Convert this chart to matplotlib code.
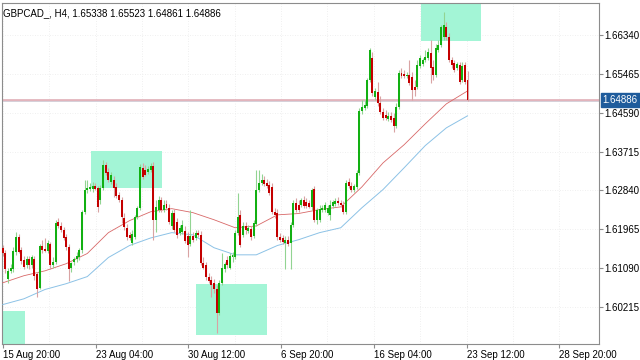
import numpy as np
import matplotlib.pyplot as plt
import matplotlib.transforms as mtransforms
from matplotlib.patches import Rectangle

plt.rcParams['font.family'] = ['Liberation Sans', 'DejaVu Sans']

#%% Data
chart_title = "GBPCAD_, H4, 1.65338 1.65523 1.64861 1.64886"
date_labels = ['15 Aug 20:00', '23 Aug 04:00', '30 Aug 12:00', '6 Sep 20:00',
               '16 Sep 04:00', '23 Sep 12:00', '28 Sep 20:00']
price_ticks = [1.60215, 1.61090, 1.61965, 1.62840, 1.63715, 1.64590, 1.65465, 1.66340]
bid = 1.64886

opens = [
    1.6155, 1.6144, 1.6085, 1.6103, 1.6108, 1.6146, 1.6180, 1.6151, 1.6128, 1.6115,
    1.6130, 1.6115, 1.6130, 1.6095, 1.6065, 1.6160, 1.6153, 1.6148, 1.6164, 1.6117,
    1.6123, 1.6213, 1.6204, 1.6196, 1.6180, 1.6157, 1.6110, 1.6123, 1.6130, 1.6133,
    1.6151, 1.6236, 1.6286, 1.6288, 1.6288, 1.6295, 1.6290, 1.6263, 1.6290, 1.6342,
    1.6326, 1.6304, 1.6308, 1.6292, 1.6274, 1.6263, 1.6222, 1.6200, 1.6184, 1.6166,
    1.6180, 1.6225, 1.6245, 1.6335, 1.6331, 1.6326, 1.6331, 1.6340, 1.6218, 1.6241,
    1.6263, 1.6241, 1.6254, 1.6245, 1.6204, 1.6234, 1.6213, 1.6189, 1.6191, 1.6193,
    1.6182, 1.6164, 1.6182, 1.6178, 1.6189, 1.6184, 1.6121, 1.6115, 1.6088, 1.6083,
    1.6076, 1.6061, 1.6009, 1.6076, 1.6106, 1.6128, 1.6110, 1.6133, 1.6135, 1.6189,
    1.6229, 1.6184, 1.6204, 1.6193, 1.6198, 1.6182, 1.6209, 1.6286, 1.6301, 1.6308,
    1.6301, 1.6297, 1.6292, 1.6236, 1.6234, 1.6180, 1.6178, 1.6166, 1.6173, 1.6166,
    1.6207, 1.6256, 1.6252, 1.6252, 1.6263, 1.6258, 1.6256, 1.6247, 1.6288, 1.6218,
    1.6218, 1.6241, 1.6241, 1.6234, 1.6229, 1.6249, 1.6254, 1.6261, 1.6256, 1.6252,
    1.6236, 1.6304, 1.6295, 1.6286, 1.6292, 1.6324, 1.6463, 1.6470, 1.6474, 1.6533,
    1.6582, 1.6495, 1.6506, 1.6481, 1.6461, 1.6454, 1.6445, 1.6452, 1.6448, 1.6430,
    1.6472, 1.6549, 1.6546, 1.6542, 1.6544, 1.6540, 1.6517, 1.6517, 1.6564, 1.6569,
    1.6578, 1.6582, 1.6594, 1.6562, 1.6544, 1.6601, 1.6612, 1.6630, 1.6652, 1.6630,
    1.6578, 1.6571, 1.6560, 1.6567, 1.6533, 1.6567, 1.65338]
highs = [
    1.6162, 1.6151, 1.6110, 1.6119, 1.6157, 1.6191, 1.6187, 1.6157, 1.6137, 1.6137,
    1.6137, 1.6139, 1.6137, 1.6101, 1.6164, 1.6173, 1.6178, 1.6173, 1.6168, 1.6133,
    1.6218, 1.6222, 1.6213, 1.6202, 1.6187, 1.6164, 1.6123, 1.6133, 1.6146, 1.6155,
    1.6241, 1.6308, 1.6308, 1.6301, 1.6304, 1.6301, 1.6295, 1.6297, 1.6353, 1.6349,
    1.6335, 1.6326, 1.6317, 1.6301, 1.6281, 1.6270, 1.6234, 1.6209, 1.6191, 1.6196,
    1.6229, 1.6249, 1.6344, 1.6346, 1.6342, 1.6340, 1.6346, 1.6349, 1.6263, 1.6272,
    1.6270, 1.6263, 1.6263, 1.6254, 1.6241, 1.6243, 1.6222, 1.6207, 1.6218, 1.6204,
    1.6191, 1.6241, 1.6191, 1.6196, 1.6196, 1.6193, 1.6133, 1.6123, 1.6097, 1.6092,
    1.6085, 1.6072, 1.6083, 1.6144, 1.6123, 1.6137, 1.6142, 1.6146, 1.6196, 1.6279,
    1.6241, 1.6213, 1.6213, 1.6207, 1.6204, 1.6218, 1.6331, 1.6331, 1.6322, 1.6317,
    1.6310, 1.6306, 1.6301, 1.6245, 1.6243, 1.6189, 1.6184, 1.6182, 1.6182, 1.6213,
    1.6263, 1.6268, 1.6263, 1.6268, 1.6272, 1.6268, 1.6263, 1.6290, 1.6295, 1.6245,
    1.6252, 1.6252, 1.6258, 1.6252, 1.6263, 1.6263, 1.6268, 1.6270, 1.6263, 1.6261,
    1.6308, 1.6312, 1.6304, 1.6299, 1.6331, 1.6470, 1.6488, 1.6488, 1.6537, 1.6605,
    1.6596, 1.6515, 1.6528, 1.6497, 1.6470, 1.6466, 1.6461, 1.6461, 1.6459, 1.6481,
    1.6556, 1.6560, 1.6556, 1.6551, 1.6578, 1.6551, 1.6533, 1.6578, 1.6589, 1.6582,
    1.6601, 1.6605, 1.6623, 1.6578, 1.6614, 1.6623, 1.6657, 1.6686, 1.6663, 1.6639,
    1.6585, 1.6578, 1.6573, 1.6573, 1.6573, 1.6573, 1.65523]
lows = [
    1.6137, 1.6099, 1.6076, 1.6097, 1.6101, 1.6139, 1.6142, 1.6119, 1.6106, 1.6110,
    1.6108, 1.6110, 1.6083, 1.6043, 1.6061, 1.6144, 1.6146, 1.6144, 1.6106, 1.6110,
    1.6119, 1.6200, 1.6191, 1.6173, 1.6151, 1.6081, 1.6101, 1.6115, 1.6123, 1.6128,
    1.6144, 1.6232, 1.6279, 1.6283, 1.6281, 1.6286, 1.6236, 1.6254, 1.6286, 1.6319,
    1.6304, 1.6299, 1.6270, 1.6268, 1.6258, 1.6211, 1.6196, 1.6173, 1.6173, 1.6162,
    1.6175, 1.6220, 1.6241, 1.6310, 1.6317, 1.6322, 1.6326, 1.6173, 1.6191, 1.6236,
    1.6236, 1.6236, 1.6241, 1.6209, 1.6198, 1.6191, 1.6178, 1.6184, 1.6187, 1.6166,
    1.6135, 1.6160, 1.6168, 1.6173, 1.6180, 1.6117, 1.6106, 1.6083, 1.6076, 1.6045,
    1.6052, 1.5964, 1.6004, 1.6070, 1.6101, 1.6110, 1.6106, 1.6123, 1.6130, 1.6184,
    1.6157, 1.6180, 1.6187, 1.6189, 1.6173, 1.6178, 1.6204, 1.6281, 1.6297, 1.6295,
    1.6290, 1.6274, 1.6232, 1.6222, 1.6173, 1.6168, 1.6164, 1.6106, 1.6160, 1.6106,
    1.6202, 1.6236, 1.6236, 1.6247, 1.6245, 1.6245, 1.6245, 1.6241, 1.6213, 1.6209,
    1.6213, 1.6236, 1.6236, 1.6229, 1.6218, 1.6245, 1.6249, 1.6252, 1.6247, 1.6232,
    1.6232, 1.6290, 1.6281, 1.6281, 1.6288, 1.6319, 1.6457, 1.6466, 1.6470, 1.6528,
    1.6497, 1.6488, 1.6474, 1.6457, 1.6443, 1.6443, 1.6441, 1.6439, 1.6416, 1.6425,
    1.6468, 1.6537, 1.6537, 1.6537, 1.6522, 1.6488, 1.6497, 1.6513, 1.6560, 1.6564,
    1.6573, 1.6578, 1.6526, 1.6533, 1.6540, 1.6596, 1.6607, 1.6623, 1.6623, 1.6573,
    1.6560, 1.6551, 1.6556, 1.6524, 1.6528, 1.6524, 1.64861]
closes = [
    1.6144, 1.6106, 1.6103, 1.6110, 1.6148, 1.6180, 1.6146, 1.6126, 1.6112, 1.6130,
    1.6115, 1.6133, 1.6092, 1.6061, 1.6160, 1.6151, 1.6148, 1.6166, 1.6115, 1.6123,
    1.6211, 1.6204, 1.6196, 1.6178, 1.6157, 1.6106, 1.6121, 1.6130, 1.6137, 1.6151,
    1.6236, 1.6286, 1.6290, 1.6292, 1.6295, 1.6288, 1.6247, 1.6290, 1.6342, 1.6324,
    1.6308, 1.6319, 1.6290, 1.6272, 1.6263, 1.6225, 1.6202, 1.6180, 1.6178, 1.6187,
    1.6225, 1.6245, 1.6337, 1.6315, 1.6319, 1.6333, 1.6340, 1.6218, 1.6247, 1.6263,
    1.6241, 1.6252, 1.6245, 1.6213, 1.6234, 1.6196, 1.6184, 1.6200, 1.6207, 1.6171,
    1.6162, 1.6182, 1.6173, 1.6189, 1.6184, 1.6121, 1.6110, 1.6088, 1.6081, 1.6072,
    1.6061, 1.6009, 1.6076, 1.6110, 1.6119, 1.6115, 1.6137, 1.6139, 1.6189, 1.6225,
    1.6162, 1.6204, 1.6196, 1.6200, 1.6180, 1.6211, 1.6286, 1.6301, 1.6308, 1.6299,
    1.6295, 1.6279, 1.6236, 1.6229, 1.6180, 1.6173, 1.6168, 1.6173, 1.6164, 1.6207,
    1.6256, 1.6241, 1.6241, 1.6263, 1.6249, 1.6249, 1.6247, 1.6286, 1.6218, 1.6241,
    1.6243, 1.6245, 1.6252, 1.6245, 1.6252, 1.6258, 1.6261, 1.6256, 1.6252, 1.6236,
    1.6301, 1.6295, 1.6286, 1.6295, 1.6324, 1.6463, 1.6472, 1.6477, 1.6533, 1.6601,
    1.6504, 1.6508, 1.6481, 1.6461, 1.6448, 1.6448, 1.6452, 1.6443, 1.6430, 1.6472,
    1.6549, 1.6542, 1.6542, 1.6544, 1.6526, 1.6511, 1.6511, 1.6567, 1.6582, 1.6578,
    1.6585, 1.6596, 1.6560, 1.6544, 1.6605, 1.6612, 1.6652, 1.6657, 1.6630, 1.6578,
    1.6567, 1.6556, 1.6569, 1.6528, 1.6564, 1.6528, 1.64886]

# moving averages, one value every ma_step bars
ma_step = 8
ma_fast = [1.6076, 1.6092, 1.6103, 1.6119, 1.6142, 1.6189, 1.6216, 1.6236, 1.6243,
           1.6234, 1.6218, 1.6200, 1.6204, 1.6229, 1.6232, 1.6241, 1.6247, 1.6292,
           1.6346, 1.6387, 1.6434, 1.6479, 1.6508]
ma_slow = [1.6027, 1.6040, 1.6061, 1.6074, 1.6090, 1.6133, 1.6160, 1.6177, 1.6189,
           1.6184, 1.6155, 1.6139, 1.6139, 1.6160, 1.6173, 1.6189, 1.6200, 1.6245,
           1.6286, 1.6335, 1.6385, 1.6425, 1.6452]

# rectangle objects: (first bar, last bar, low price, high price)
zones = [(-3.0, 8.4, 1.5900, 1.6013),
         (33.4, 60.3, 1.6290, 1.6373),
         (73.2, 100.1, 1.5959, 1.6074),
         (158.4, 181.1, 1.6621, 1.6750)]

assert len(opens) == len(highs) == len(lows) == len(closes)

#%% Figure
fig = plt.figure(figsize=(6.4, 3.6), dpi=100)
ax = fig.add_axes([2/640, 16/360, 597/640, 341/360])

bars_per_label = 35.11
ax.set_xlim(-0.3, 225.8)
ax.set_ylim(1.59382, 1.67061)

# grid
for p in price_ticks:
    ax.axhline(p, color='#ebebeb', lw=0.6, ls=(0, (1, 2)), zorder=0)
for k in range(14):
    ax.axvline(0.08 + k*bars_per_label/2, color='#ebebeb', lw=0.6, ls=(0, (1, 2)), zorder=0)

# rectangles
for x0, x1, y0, y1 in zones:
    ax.add_patch(Rectangle((x0, y0), x1 - x0, y1 - y0, facecolor='#a3f5d6',
                           edgecolor='none', zorder=1))

# bid line
ax.axhline(bid, color='#e2b4bc', lw=2.0, zorder=2)
ax.axhline(bid - 0.00028, color='#d4d4de', lw=0.6, zorder=2)

# moving averages
ma_x = np.arange(len(ma_fast)) * ma_step
ax.plot(ma_x, ma_fast, color='#d86868', lw=0.6, zorder=3)
ax.plot(ma_x, ma_slow, color='#8cc2e6', lw=0.7, zorder=3)

# candles
o = np.array(opens); h = np.array(highs); l = np.array(lows); c = np.array(closes)
idx = np.arange(len(c))
up = c >= o
ax.vlines(idx[up], l[up], h[up], color='#92d492', lw=0.8, zorder=4)
ax.vlines(idx[~up], l[~up], h[~up], color='#d9a3a3', lw=0.8, zorder=4)
ax.bar(idx[up], (c - o)[up], bottom=o[up], width=0.75, color='#12b012', lw=0, zorder=5)
ax.bar(idx[~up], (o - c)[~up], bottom=c[~up], width=0.75, color='#c40000', lw=0, zorder=5)

# axes style
for s in ax.spines.values():
    s.set_color('#8c8c8c')
    s.set_linewidth(0.8)

ax.set_xticks([0.08 + k*bars_per_label for k in range(len(date_labels))])
ax.set_xticklabels(date_labels, ha='left')
offset = mtransforms.ScaledTranslation(2/100, 0, fig.dpi_scale_trans)
for lab in ax.get_xticklabels():
    lab.set_transform(lab.get_transform() + offset)

ax.yaxis.tick_right()
ax.set_yticks(price_ticks)
ax.set_yticklabels(['%.5f' % p for p in price_ticks])
ax.tick_params(axis='both', labelsize=7, colors='#8c8c8c', labelcolor='black',
               length=3, width=0.8, pad=1)

ax.text(0.002, 0.985, chart_title, transform=ax.transAxes, fontsize=7,
        ha='left', va='top', color='black')

# bid label on the price scale
trans = mtransforms.blended_transform_factory(ax.transAxes, ax.transData)
ax.text(1.006, bid, '%.5f' % bid, transform=trans, fontsize=7, color='white',
        ha='left', va='center', clip_on=False, zorder=10,
        bbox=dict(boxstyle='square,pad=0.2', facecolor='#1f5c9c', edgecolor='#1f5c9c'))

fig.savefig('out.png', dpi=100)
